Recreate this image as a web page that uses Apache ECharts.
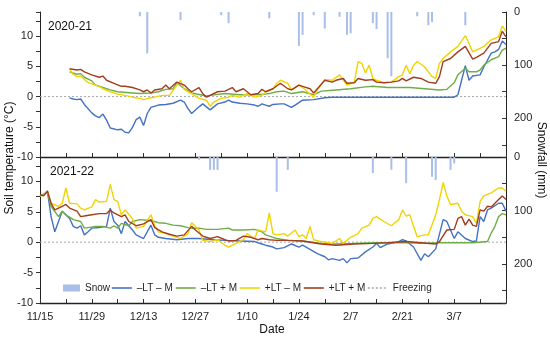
<!DOCTYPE html>
<html><head><meta charset="utf-8">
<script src="https://cdn.jsdelivr.net/npm/echarts@6/dist/echarts.min.js"></script>
<style>html,body{margin:0;padding:0;background:#fff}#c{width:550px;height:339px}</style>
</head><body><div id="c"></div>
<script>
// ---- data (day 0 = 11/15) ----
const tickLabels = ['11/15','11/29','12/13','12/27','1/10','1/24','2/7','2/21','3/7'];
const panelTitles = ['2020-21','2021-22'];
const seriesNames = ['Snow','–LT – M','–LT + M','+LT – M','+LT + M','Freezing'];
const freezing = [[0,0],[126,0]];

// 2020-21
const snow2021 = [[27,8],[29,78],[38,15],[49,6],[51,21],[62,12],[70,64],[71,43],[74,6],[77,31],[81,9],[83,43],[84,40],[90,21],[91,32],[94,87],[95,121],[102,8],[105,25],[106,19],[115,25]];
const ltm2021 = [[8,-0.2],[9,-0.4],[10,-0.5],[11,-0.4],[12,-1.3],[14,-2.7],[15,-3.2],[16,-3.5],[17,-2.9],[18,-3.9],[19,-5.2],[21,-5.5],[22,-5.4],[23,-5.9],[24,-6.0],[25,-5.1],[26,-3.8],[27,-3.4],[28,-4.8],[29,-2.8],[30,-1.8],[32,-1.4],[34,-1.3],[36,-1.1],[38,-0.6],[39,-0.9],[40,-2.0],[41,-2.8],[43,-1.7],[44,-1.2],[45,-1.7],[46,-2.2],[48,-1.2],[50,-0.9],[51,-0.6],[52,-0.9],[54,-1.1],[56,-1.2],[58,-1.4],[59,-1.6],[60,-1.2],[61,-1.4],[62,-1.6],[63,-1.3],[65,-1.2],[66,-1.2],[68,-1.8],[69,-1.4],[71,-0.6],[74,-0.5],[77,-0.2],[79,-0.1],[112,-0.1],[113,0.3],[115,5.1],[116,2.7],[117,3.4],[119,3.6],[120,4.9],[122,7.2],[123,7.4],[124,7.8],[125,9.2],[126,8.6]];
const ltp2021 = [[8,4.1],[10,3.7],[11,3.8],[12,3.2],[14,2.6],[15,1.9],[17,1.5],[19,1.1],[21,0.8],[25,0.6],[27,0.5],[30,0.6],[32,0.8],[34,1.2],[36,1.3],[37,2.3],[39,1.3],[41,0.6],[45,0.1],[46,0.2],[50,0.5],[54,0.3],[58,0.3],[61,0.4],[62,0.5],[64,0.8],[66,0.9],[68,0.5],[71,0.8],[74,0.3],[76,0.9],[80,1.1],[84,1.3],[88,1.6],[90,1.7],[94,1.5],[100,1.5],[104,1.3],[108,1.1],[110,1.2],[112,2.3],[113,3.6],[115,4.7],[116,4.1],[118,4.1],[119,4.4],[120,5.2],[122,6.1],[124,6.6],[125,7.7],[126,8.0]];
const ptm2021 = [[8,4.5],[9,3.7],[10,3.3],[11,3.4],[13,2.3],[15,1.9],[16,1.7],[17,1.3],[19,0.8],[21,0.4],[23,0.2],[25,-0.1],[27,-0.3],[28,-0.5],[30,-0.2],[31,-0.1],[33,0.2],[35,0.2],[37,1.9],[38,2.7],[39,1.2],[40,0.8],[41,0.5],[43,-0.3],[45,-0.6],[46,-1.6],[47,-0.9],[49,-0.3],[51,-0.1],[52,0.2],[54,-0.1],[56,0.5],[58,-0.1],[60,0.2],[61,0.8],[63,1.3],[64,2.2],[65,2.7],[67,2.2],[68,1.1],[70,1.9],[71,1.5],[74,-0.1],[75,1.1],[77,2.8],[79,2.7],[81,3.6],[83,1.9],[85,2.4],[86,5.8],[87,5.5],[88,3.9],[89,5.2],[90,3.0],[91,2.7],[93,2.3],[95,2.4],[97,3.3],[98,3.6],[99,5.2],[100,3.8],[101,5.2],[102,5.8],[104,4.9],[106,3.3],[107,3.0],[108,5.5],[109,6.3],[111,7.4],[113,8.3],[115,10.1],[117,7.4],[118,7.7],[120,8.3],[122,9.4],[124,9.9],[125,11.7],[126,10.8]];
const ptp2021 = [[8,4.6],[10,4.4],[11,4.5],[12,4.1],[14,3.6],[16,3.2],[17,3.4],[18,2.7],[20,2.2],[22,1.7],[23,1.7],[25,1.5],[27,1.1],[28,0.8],[29,1.1],[30,0.6],[31,1.1],[33,1.3],[34,1.9],[35,1.3],[37,2.4],[39,1.9],[40,1.3],[41,0.8],[43,1.5],[44,0.5],[45,-0.1],[46,0.2],[48,0.8],[50,0.9],[52,1.5],[53,0.8],[55,1.3],[57,0.3],[59,0.5],[60,1.2],[61,0.8],[63,1.3],[65,2.2],[67,1.3],[68,1.1],[70,1.9],[71,1.7],[73,1.3],[74,0.6],[75,1.3],[77,2.7],[79,2.4],[80,2.7],[82,3.0],[83,2.2],[85,2.3],[86,3.0],[88,2.7],[90,2.8],[91,2.4],[93,2.3],[95,2.4],[97,2.6],[98,3.0],[99,2.6],[101,3.2],[103,3.0],[105,2.4],[107,2.2],[108,3.3],[109,5.8],[111,6.3],[113,7.4],[115,8.3],[117,6.2],[118,6.5],[120,7.2],[122,8.8],[124,9.1],[125,10.8],[126,9.9]];

// 2021-22
const snow2122 = [[43,5],[46,24],[47,24],[48,24],[64,65],[67,24],[90,30],[95,24],[99,49],[106,37],[107,43],[111,24],[112,12]];
const ltm2122 = [[0,7.6],[1,7.8],[2,8.4],[3,4.2],[4,1.7],[5,3.4],[6,5.1],[8,3.9],[9,2.6],[10,2.3],[11,2.7],[12,1.2],[13,1.7],[14,2.3],[16,2.4],[18,2.6],[19,5.6],[20,3.4],[21,2.8],[22,1.4],[23,3.4],[25,2.0],[26,1.2],[28,0.6],[30,2.8],[31,1.2],[32,0.8],[34,0.6],[37,0.4],[40,0.6],[43,0.6],[47,0.4],[50,0.3],[54,0.2],[58,0.1],[60,-0.3],[61,-0.5],[63,-0.8],[64,-1.1],[66,-0.9],[68,-0.3],[70,-0.8],[71,-0.5],[73,-1.2],[75,-1.9],[77,-2.4],[78,-2.9],[79,-2.7],[81,-3.0],[82,-2.7],[83,-3.4],[84,-2.7],[86,-2.6],[88,-1.6],[90,-0.8],[91,-0.2],[92,-0.9],[94,-0.3],[95,-0.2],[97,0.1],[98,0.4],[99,0.2],[101,-0.8],[103,-3.0],[104,-1.9],[105,-2.4],[107,-1.1],[109,3.7],[110,3.4],[112,0.6],[113,1.7],[115,0.6],[117,0.1],[118,0.2],[119,4.2],[120,3.4],[121,5.3],[122,5.6],[124,6.4],[125,6.4],[126,5.1]];
const ltp2122 = [[0,7.6],[2,8.2],[3,5.9],[5,4.2],[6,5.1],[7,4.5],[9,3.7],[11,3.4],[12,2.3],[13,2.4],[15,2.6],[17,2.6],[19,2.3],[20,2.7],[21,2.3],[22,3.1],[24,2.7],[25,3.4],[27,3.7],[29,3.6],[31,3.4],[32,3.2],[34,3.1],[36,2.8],[38,2.7],[40,2.4],[41,2.3],[43,2.3],[45,2.1],[48,2.1],[51,2.3],[52,2.0],[55,2.0],[58,2.1],[60,1.7],[61,1.2],[63,0.8],[64,0.6],[67,0.3],[71,0.2],[76,-0.2],[80,-0.3],[85,-0.2],[90,-0.1],[94,-0.1],[99,-0.1],[103,-0.2],[108,-0.1],[112,-0.1],[117,-0.1],[121,0.1],[122,1.5],[123,2.6],[124,4.2],[125,4.7],[126,4.5]];
const ptm2122 = [[0,7.6],[1,7.7],[2,8.4],[3,6.4],[5,5.9],[6,6.4],[7,8.9],[8,6.4],[10,6.3],[11,5.6],[12,5.3],[14,5.8],[15,7.0],[16,6.6],[18,6.7],[19,9.5],[20,7.0],[21,6.7],[22,4.5],[23,5.3],[25,3.9],[26,2.3],[28,2.6],[30,4.5],[31,2.8],[32,1.7],[34,1.4],[36,1.0],[38,0.6],[40,1.4],[41,3.2],[43,2.0],[44,0.3],[46,0.1],[48,0.4],[50,-0.5],[51,-0.8],[53,-0.2],[55,0.4],[56,1.4],[58,0.6],[59,2.0],[61,1.7],[62,4.8],[63,1.4],[64,1.2],[66,1.4],[67,1.0],[69,2.0],[70,0.9],[71,1.2],[72,0.6],[73,2.6],[74,0.4],[76,0.1],[78,-0.1],[79,-0.2],[81,0.6],[82,-0.2],[84,0.8],[86,1.4],[87,2.3],[89,2.8],[90,3.9],[91,4.2],[93,3.4],[95,2.7],[97,3.7],[98,5.3],[99,4.3],[100,4.5],[101,2.6],[102,0.9],[104,1.2],[105,1.2],[107,4.5],[108,7.0],[109,9.8],[110,7.6],[111,6.2],[113,6.4],[114,5.1],[115,4.5],[117,4.2],[118,3.1],[119,6.7],[120,7.6],[122,8.1],[124,8.9],[125,8.9],[126,8.4]];
const ptp2122 = [[0,7.8],[1,7.6],[2,8.4],[3,6.4],[4,5.3],[6,5.9],[7,6.2],[8,5.6],[10,5.1],[11,4.2],[12,4.3],[14,4.5],[16,4.7],[18,4.7],[19,5.3],[20,4.8],[22,4.2],[23,4.5],[24,3.4],[26,2.7],[28,3.0],[30,3.7],[31,2.4],[33,1.7],[35,1.3],[37,1.0],[39,1.2],[41,2.6],[42,2.0],[44,1.0],[46,0.6],[48,0.9],[50,0.4],[51,0.2],[53,0.3],[55,1.0],[57,0.8],[59,0.4],[60,0.6],[62,0.4],[64,0.3],[67,0.3],[71,0.2],[76,-0.3],[80,-0.5],[85,-0.3],[90,-0.2],[94,-0.1],[99,0.1],[103,-0.1],[107,-0.3],[108,0.1],[110,2.0],[112,2.1],[113,3.9],[114,4.2],[115,2.8],[116,3.8],[117,2.8],[118,2.6],[119,5.3],[120,5.1],[121,5.9],[122,5.8],[124,7.0],[125,7.6],[126,7.0]];

// ---- styling ----
const FONT = 'Liberation Sans';
const TXT = '#1f1f1f';
const C = {snow:'#a9bee8', ltm:'#4472c4', ltp:'#70ad47', ptm:'#f0d400', ptp:'#a33d1f', frz:'#a6a6a6'};

const panels = [
  {snow:snow2021, lines:[ltm2021, ltp2021, ptm2021, ptp2021]},
  {snow:snow2122, lines:[ltm2122, ltp2122, ptm2122, ptp2122]}
];
const lineColors = [C.ltm, C.ltp, C.ptm, C.ptp];

const grids = [
  {left:40, top:12, width:466, height:145},
  {left:40, top:157, width:466, height:146}
];

const xAxes = [0,1].map(i => ({
  type:'value', gridIndex:i, min:0, max:126, interval:7,
  axisLine:{show:true, onZero:false, lineStyle:{color:'#222', width:1.3}},
  axisTick:{show:true, inside:true, length:4, lineStyle:{color:'#333'}},
  splitLine:{show:false},
  axisLabel:{show:i===1, margin:8, fontFamily:FONT, fontSize:11, color:TXT,
    formatter: v => (v % 14 === 0 && tickLabels[v/14]) ? tickLabels[v/14] : ''}
}));

const yAxes = [];
[0,1].forEach(i => {
  yAxes.push({
    type:'value', gridIndex:i, position:'left', min:-10, max:14, interval:2.5,
    axisLine:{show:true, onZero:false, lineStyle:{color:'#222', width:1}},
    axisTick:{show:true, length:4, lineStyle:{color:'#333'}},
    splitLine:{show:false},
    axisLabel:{margin:7, fontFamily:FONT, fontSize:11, color:TXT,
      formatter: v => (v % 5 === 0) ? String(v) : ''}
  });
  yAxes.push({
    type:'value', gridIndex:i, position:'right', inverse:true, min:0, max:273, interval:50,
    axisLine:{show:true, onZero:false, lineStyle:{color:'#222', width:1}},
    axisTick:{show:true, inside:true, length:4, lineStyle:{color:'#333'}},
    splitLine:{show:false},
    axisLabel:{margin:8, fontFamily:FONT, fontSize:11, color:TXT,
      formatter: v => (v % 100 === 0) ? String(v) : ''}
  });
});

const series = [];
panels.forEach((p, i) => {
  series.push({name:seriesNames[0], type:'bar', xAxisIndex:i, yAxisIndex:2*i+1,
    data:p.snow, barWidth:2, itemStyle:{color:C.snow}, z:1});
  series.push({name:seriesNames[5], type:'line', xAxisIndex:i, yAxisIndex:2*i,
    data:freezing, symbol:'none', lineStyle:{color:C.frz, width:1, type:[2,2]},
    itemStyle:{color:C.frz}, z:2});
  p.lines.forEach((d, k) => {
    series.push({name:seriesNames[k+1], type:'line', xAxisIndex:i, yAxisIndex:2*i,
      data:d, symbol:'none', showSymbol:false,
      lineStyle:{color:lineColors[k], width:1.4}, itemStyle:{color:lineColors[k]}, z:3+k});
  });
});

const legendPos = [58, 106, 170, 234, 298, 362];
const legends = seriesNames.map((n, k) => ({
  data: k === 0 ? [{name:n, icon:'rect'}] : [n],
  left: legendPos[k], top: 278, orient:'horizontal',
  itemWidth: k === 0 ? 17 : 20, itemHeight: k === 0 ? 7 : 8, itemGap: 4,
  selectedMode:false,
  itemStyle: k === 0 ? {color:C.snow} : {opacity:0},
  lineStyle: k === 0 ? undefined : {width:1.6},
  textStyle:{fontFamily:FONT, fontSize:10, color:TXT}
}));

const chart = echarts.init(document.getElementById('c'), null, {renderer:'canvas'});
chart.setOption({
  animation:false,
  backgroundColor:'#fff',
  grid:grids, xAxis:xAxes, yAxis:yAxes, legend:legends, series:series,
  graphic:[
    {type:'text', left:48, top:21, style:{text:panelTitles[0], fontFamily:FONT, fontSize:12, fill:'#111'}},
    {type:'text', left:50, top:166, style:{text:panelTitles[1], fontFamily:FONT, fontSize:12, fill:'#111'}},
    {type:'text', x:10, y:158, rotation:Math.PI/2,
      style:{text:'Soil temperature (°C)', x:0, y:0, align:'center', verticalAlign:'middle', fontFamily:FONT, fontSize:12, fill:'#111'}},
    {type:'text', x:541, y:160, rotation:-Math.PI/2,
      style:{text:'Snowfall (mm)', x:0, y:0, align:'center', verticalAlign:'middle', fontFamily:FONT, fontSize:12, fill:'#111'}},
    {type:'text', x:272, y:330,
      style:{text:'Date', x:0, y:0, align:'center', verticalAlign:'middle', fontFamily:FONT, fontSize:12, fill:'#111'}}
  ]
});
</script></body></html>
